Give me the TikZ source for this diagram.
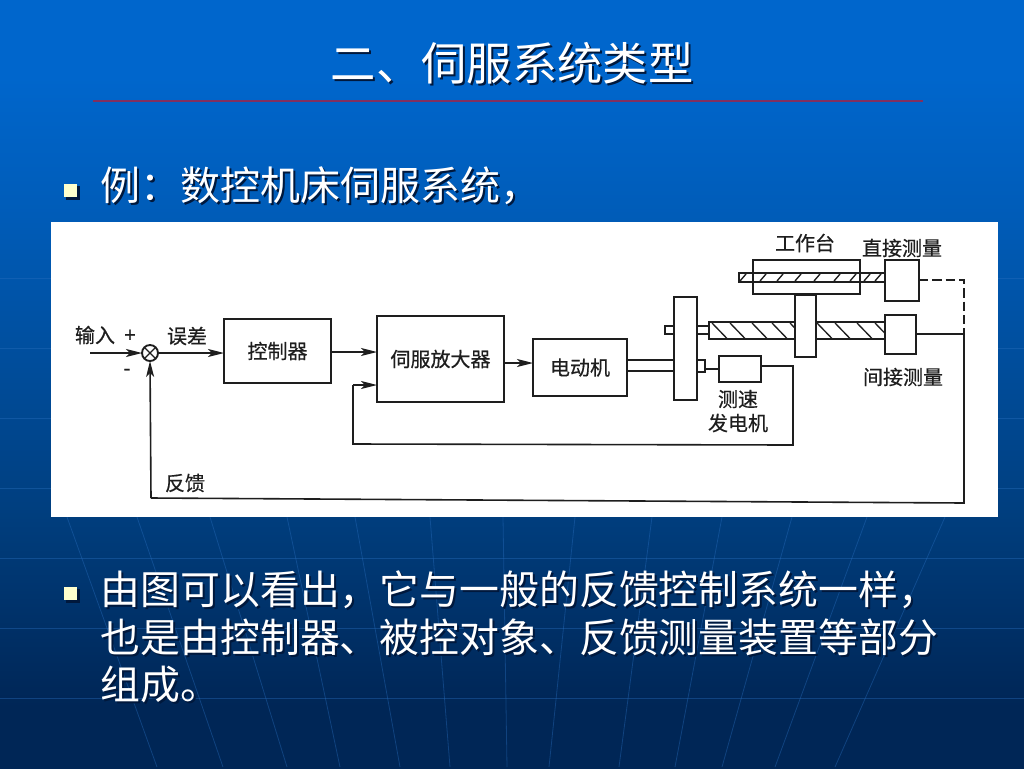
\documentclass[tikz,border=0pt]{standalone}
\usepackage{fontspec}
\setmainfont{Noto Sans CJK SC}
\newfontfamily\lblfont[FakeBold=0.5]{Noto Sans CJK SC}
\usetikzlibrary{arrows.meta,calc}
\definecolor{bgA}{RGB}{0,102,204}
\definecolor{bgB}{RGB}{0,92,184}
\definecolor{bgC}{RGB}{0,62,126}
\definecolor{bgD}{RGB}{0,38,86}
\definecolor{fanline}{RGB}{40,110,190}
\definecolor{ruleclr}{RGB}{128,48,96}
\definecolor{bulletclr}{RGB}{255,255,204}
\definecolor{shadowclr}{RGB}{0,24,60}
\definecolor{inkclr}{RGB}{30,30,30}
\pgfdeclareverticalshading{slidebg}{100bp}{color(0bp)=(bgD); color(29bp)=(bgD); color(41.5bp)=(bgC); color(61bp)=(bgB); color(70bp)=(bgA); color(100bp)=(bgA)}
\tikzset{
  x=0.75pt,y=-0.75pt,
  partbox/.style={draw=inkclr,line width=1.6pt,fill=white,inner sep=0pt,outer sep=0pt,font=\lblfont\fontsize{15}{17}\selectfont,text=inkclr},
  thinbox/.style={partbox,line width=1.2pt},
  openbox/.style={thinbox,fill=none},
  wire/.style={draw=inkclr,line width=1.2pt},
  flow/.style={wire,-{Stealth[length=12pt,width=6pt,inset=3pt]}},
  hatch/.style={draw=inkclr,line width=1pt},
  lbl/.style={font=\lblfont\fontsize{15}{17}\selectfont,text=inkclr,inner sep=0pt},
  bgrule/.style={draw=fanline,line width=0.6pt,opacity=0.4},
}
\newcommand{\bx}[7][partbox]{\node[#1,minimum width={(#5-#3)*0.75pt},minimum height={(#6-#4)*0.75pt}] (#2) at ({(#3+#5)/2},{(#4+#6)/2}) {#7};}
\newcommand{\shtxt}[6]{%
  \node[anchor=#2,inner sep=0pt,text=shadowclr,font=\fontsize{#5}{#5}\selectfont] (#1s) at ({#3+2},{#4+2}) {#6};
  \node[anchor=#2,inner sep=0pt,text=white,font=\fontsize{#5}{#5}\selectfont] (#1) at (#3,#4) {#6};}
\begin{document}
\begin{tikzpicture}
\useasboundingbox (0,0) rectangle (1024,768);
\shade[shading=slidebg] (0,0) rectangle (1024,768);
% faint background pattern
\foreach \yy in {278,348,418,488,558,628,698} \draw[bgrule] (0,\yy) -- (1024,\yy);
\foreach \xa/\xb in {67/157,137/223,210/287,287/340,355/400,430/450,503/507,575/549,652/619,722/675,792/722,867/775,945/835}
  \draw[bgrule] (\xa,517) -- (\xb,767);
% title
\shtxt{title}{center}{512}{63}{34}{二、伺服系统类型}
\draw[ruleclr,line width=1.6pt] (93,101) -- (923,101);
% bullets and text
\fill[shadowclr] (66,186) rectangle (80,200);
\fill[bulletclr] (64,184) rectangle (77,197);
\shtxt{bodyA}{west}{100}{186}{30}{例：数控机床伺服系统，}
\fill[shadowclr] (66,589) rectangle (80,603);
\fill[bulletclr] (64,587) rectangle (77,600);
\shtxt{bodyB}{west}{100.5}{590}{29.9}{由图可以看出，它与一般的反馈控制系统一样，}
\shtxt{bodyC}{west}{100.5}{637}{29.9}{也是由控制器、被控对象、反馈测量装置等部分}
\shtxt{bodyD}{west}{100.5}{684}{29.9}{组成。}
% white panel
\fill[white] (51,222) rectangle (998,517);
% coordinates
\coordinate (inA) at (90,353);
\coordinate (yshaftA) at (0,360);
\coordinate (yshaftB) at (0,371);
\coordinate (ysA) at (0,326);
\coordinate (ysB) at (0,334);
\coordinate (tachR) at (793,366);
\coordinate (tachB) at (793,445);
\coordinate (ampL) at (353,444);
\coordinate (ampT) at (353,385);
\coordinate (frT) at (964,280);
\coordinate (frM) at (964,334);
\coordinate (frB) at (964,503);
\coordinate (flB) at (151,498);
% lead screw
\bx{screw}{709}{322}{885}{339}{}
\foreach \xx in {712,730,752,772,790,817,835,857,875}
  \draw[hatch] (\xx,323) -- ({\xx+15},338.5);
% blocks
\bx{ctrl}{224}{319}{331}{383}{控制器}
\bx{amp}{377}{316}{504}{402}{伺服放大器}
\bx{motor}{533}{339}{627}{396}{电动机}
\bx{stubA}{665}{326}{674}{334}{}
\bx{gear}{674}{297}{697}{400}{}
\bx[thinbox]{stubB}{697}{360}{705}{372}{}
\bx{tach}{719}{356}{761}{382}{}
\bx[openbox]{table}{753}{260}{860}{294}{}
\bx[openbox]{scale}{739}{273}{885}{282}{}
\foreach \xx in {743,763,780,798,817,837,853,867,878}
  \draw[hatch] ({\xx-3},281) -- ({\xx+3},274);
\bx{slider}{795}{295}{816}{357}{}
\bx{direct}{885}{260}{919}{301}{}
\bx{indirect}{885}{315}{916}{354}{}
\node[draw=inkclr,line width=1.4pt,circle,fill=white,minimum size=12pt,inner sep=0pt,outer sep=0pt,
  path picture={\draw[inkclr,line width=1pt] (path picture bounding box.north west) -- (path picture bounding box.south east)
    (path picture bounding box.north east) -- (path picture bounding box.south west);}] (sum) at (150,353) {};
% labels
\node[lbl] (lInput) at (95,335) {输入};
\node[lbl] (lPlus) at (130,336) {+};
\node[lbl] (lMinus) at (127,372) {-};
\node[lbl] (lError) at (187,336) {误差};
\node[lbl] (lFb) at (185,483) {反馈};
\node[lbl] (lTable) at (805,243) {工作台};
\node[lbl] (lDirect) at (902,248) {直接测量};
\node[lbl] (lIndirect) at (903,377) {间接测量};
\node[lbl] (lTachA) at (738,399) {测速};
\node[lbl] (lTachB) at (738,423) {发电机};
% connectors
\draw[flow] (inA) -- (sum.west);
\draw[flow] (sum.east) -- (ctrl.west |- sum.east);
\draw[flow] (ctrl.east |- 0,352) -- (amp.west |- 0,352);
\draw[flow] (amp.east |- 0,363) -- (motor.west |- 0,363);
\draw[wire,line width=1.8pt] (motor.east |- yshaftA) -- (gear.west |- yshaftA);
\draw[wire,line width=1.8pt] (motor.east |- yshaftB) -- (gear.west |- yshaftB);
\draw[wire] (gear.east |- ysA) -- (screw.west |- ysA);
\draw[wire] (gear.east |- ysB) -- (screw.west |- ysB);
\draw[wire] (stubB.east |- tach.west) -- (tach.west);
\draw[wire] (tach.east |- tachR) -- (tachR) -- (tachB) -- (ampL) -- (ampT);
\draw[flow] (ampT) -- (amp.west |- ampT);
\draw[wire,dashed,dash pattern=on 7pt off 3pt] (direct.east |- frT) -- (frT) -- (frM);
\draw[wire] (indirect.east |- frM) -- (frM) -- (frB) -- (flB);
\draw[flow] (flB) -- (sum.south);
\end{tikzpicture}
\end{document}
